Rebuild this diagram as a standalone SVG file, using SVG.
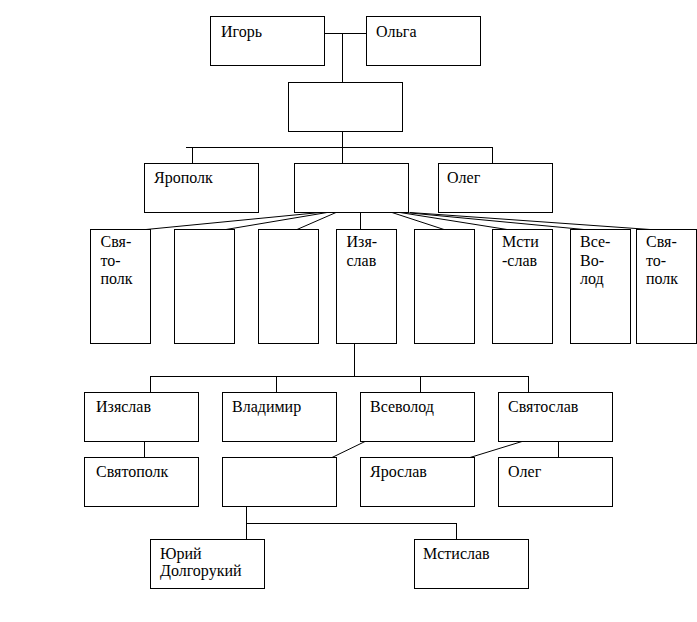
<svg xmlns="http://www.w3.org/2000/svg" width="697" height="622" viewBox="0 0 697 622" font-family="'Liberation Serif', 'DejaVu Serif', serif">
<style>
.b{fill:#fff;stroke:#000;stroke-width:1}
.t{font-size:16px;fill:#000}
.c{fill:none;stroke:#000;stroke-width:1}
</style>
<rect x="0" y="0" width="697" height="622" fill="#fff"/>
<g id="connectors" class="c">
<path d="M324 33.5H366M342.5 33V82"/>
<path d="M342.5 131V163M186 147.5H492.5M192.5 147V163M492.5 147V163"/>
<path d="M360.5 212V229"/>
<path d="M320 212.5L146 229.5M327 212.5L226 229.5M336 212.5L297 229.5"/>
<path d="M392 212.5L444 229.5M400 212.5L507 229.5M405 212.5L584 229.5M410 212.5L650 229.5"/>
<path d="M354.5 343V376M150 376.5H528.5M150.5 376V392M276.5 376V392M420.5 376V392M528.5 376V392"/>
<path d="M144.5 441V457M558.5 441V457"/>
<path d="M365 441.5L332 457.5M522 441.5L470 457.5"/>
<path d="M246.5 506V539M246 523.5H456.5M456.5 523V539"/>
</g>
<g id="igor"><rect class="b" x="210.5" y="16.5" width="114" height="49"/><text class="t" x="221" y="36.5">Игорь</text></g>
<g id="olga"><rect class="b" x="366.5" y="16.5" width="114" height="49"/><text class="t" x="376" y="36.5">Ольга</text></g>
<g id="n1"><rect class="b" x="288.5" y="82.5" width="114" height="49"/></g>
<g id="yaropolk"><rect class="b" x="144.5" y="163.5" width="114" height="49"/><text class="t" x="154" y="183">Ярополк</text></g>
<g id="n2"><rect class="b" x="294.5" y="163.5" width="114" height="49"/></g>
<g id="oleg1"><rect class="b" x="438.5" y="163.5" width="114" height="49"/><text class="t" x="447" y="183">Олег</text></g>
<g id="r3a"><rect class="b" x="90.5" y="229.5" width="60" height="114"/><text class="t" x="100.5" y="247">Свя-</text><text class="t" x="100.5" y="265.5">то-</text><text class="t" x="100.5" y="284">полк</text></g>
<g id="r3b"><rect class="b" x="174.5" y="229.5" width="60" height="114"/></g>
<g id="r3c"><rect class="b" x="258.5" y="229.5" width="60" height="114"/></g>
<g id="r3d"><rect class="b" x="336.5" y="229.5" width="60" height="114"/><text class="t" x="346.5" y="247">Изя-</text><text class="t" x="346.5" y="265.5">слав</text></g>
<g id="r3e"><rect class="b" x="414.5" y="229.5" width="60" height="114"/></g>
<g id="r3f"><rect class="b" x="492.5" y="229.5" width="60" height="114"/><text class="t" x="502" y="247">Мсти</text><text class="t" x="502" y="265.5">-слав</text></g>
<g id="r3g"><rect class="b" x="570.5" y="229.5" width="60" height="114"/><text class="t" x="580" y="247">Все-</text><text class="t" x="580" y="265.5">Во-</text><text class="t" x="580" y="284">лод</text></g>
<g id="r3h"><rect class="b" x="636.5" y="229.5" width="60" height="114"/><text class="t" x="646" y="247">Свя-</text><text class="t" x="646" y="265.5">то-</text><text class="t" x="646" y="284">полк</text></g>
<g id="izyaslav"><rect class="b" x="84.5" y="392.5" width="114" height="49"/><text class="t" x="96" y="412">Изяслав</text></g>
<g id="vladimir"><rect class="b" x="222.5" y="392.5" width="114" height="49"/><text class="t" x="232" y="412">Владимир</text></g>
<g id="vsevolod"><rect class="b" x="360.5" y="392.5" width="114" height="49"/><text class="t" x="370" y="412">Всеволод</text></g>
<g id="svyatoslav"><rect class="b" x="498.5" y="392.5" width="114" height="49"/><text class="t" x="508" y="412">Святослав</text></g>
<g id="svyatopolk"><rect class="b" x="84.5" y="457.5" width="114" height="49"/><text class="t" x="96" y="477">Святополк</text></g>
<g id="n3"><rect class="b" x="222.5" y="457.5" width="114" height="49"/></g>
<g id="yaroslav"><rect class="b" x="360.5" y="457.5" width="114" height="49"/><text class="t" x="370" y="477">Ярослав</text></g>
<g id="oleg2"><rect class="b" x="498.5" y="457.5" width="114" height="49"/><text class="t" x="508" y="477">Олег</text></g>
<g id="yury"><rect class="b" x="150.5" y="539.5" width="114" height="49"/><text class="t" x="160" y="559">Юрий</text><text class="t" x="160" y="576">Долгорукий</text></g>
<g id="mstislav"><rect class="b" x="414.5" y="539.5" width="114" height="49"/><text class="t" x="423" y="559">Мстислав</text></g>
</svg>
